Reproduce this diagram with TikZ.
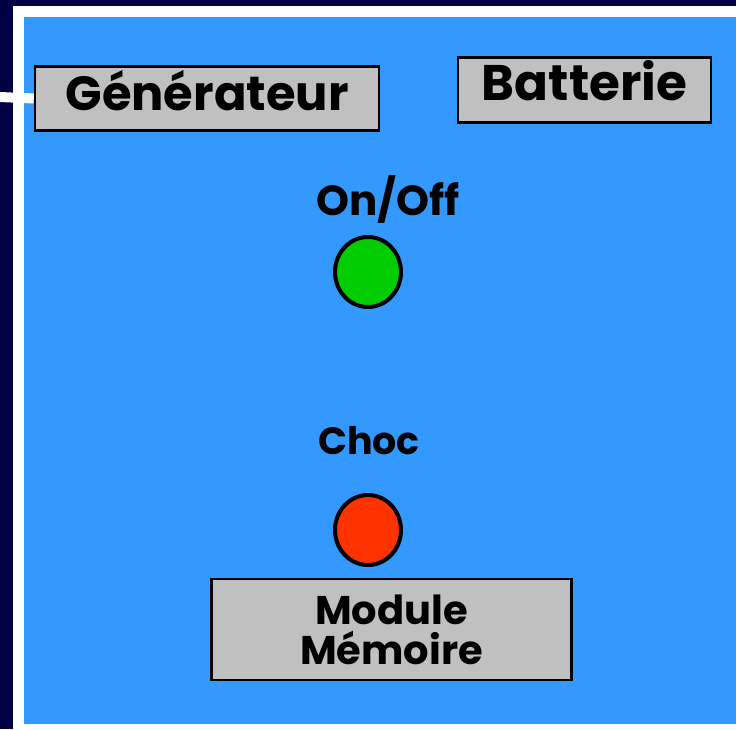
\documentclass[tikz,border=0pt]{standalone}
\usepackage{fontspec}
\setmainfont{Poppins}
\definecolor{navy}{HTML}{000044}
\definecolor{panel}{HTML}{3399FF}
\definecolor{boxgray}{HTML}{C0C0C0}
\definecolor{ledgreen}{HTML}{00CC00}
\definecolor{ledred}{HTML}{FF3300}
\tikzset{
  box/.style={draw=black, line width=2.5pt, fill=boxgray, inner sep=0pt, align=center, font=\bfseries},
  led/.style={draw=black, line width=4pt, ellipse, inner sep=0pt},
  label/.style={inner sep=0pt, font=\bfseries},
}
\usetikzlibrary{shapes.geometric}
\begin{document}
\begin{tikzpicture}[x=1pt,y=-1pt]
\useasboundingbox (0,0) rectangle (736,729);
\fill[navy] (0,0) rectangle (736,729);
\fill[white] (13,6) rectangle (736,729);
\fill[panel] (24,17) rectangle (736,724);
\node[box, minimum width=344pt, minimum height=64pt, text height=24pt, text depth=0pt] (gen) at (207,98.5) {\fontsize{48}{48}\selectfont Générateur};
\node[box, minimum width=253pt, minimum height=65pt, text height=20pt, text depth=0pt] (bat) at (584.5,90) {\fontsize{50}{50}\selectfont Batterie};
\node[box, minimum width=360pt, minimum height=101pt, font=\bfseries\fontsize{40}{40}\selectfont] (mod) at (391.5,629.5) {Module\\Mémoire};
\node[label] (onoff) at (388,199) {\fontsize{42}{42}\selectfont On/Off};
\node[label] (choc) at (369,441) {\fontsize{38}{38}\selectfont Choc};
\node[led, fill=ledgreen, minimum width=66pt, minimum height=70pt] (on) at (368,272) {};
\node[led, fill=ledred, minimum width=66pt, minimum height=70pt] (shock) at (368,530) {};
\coordinate (stub) at (0,97);
\draw[white, line width=10pt] (stub) -- (gen.west);
\end{tikzpicture}
\end{document}
